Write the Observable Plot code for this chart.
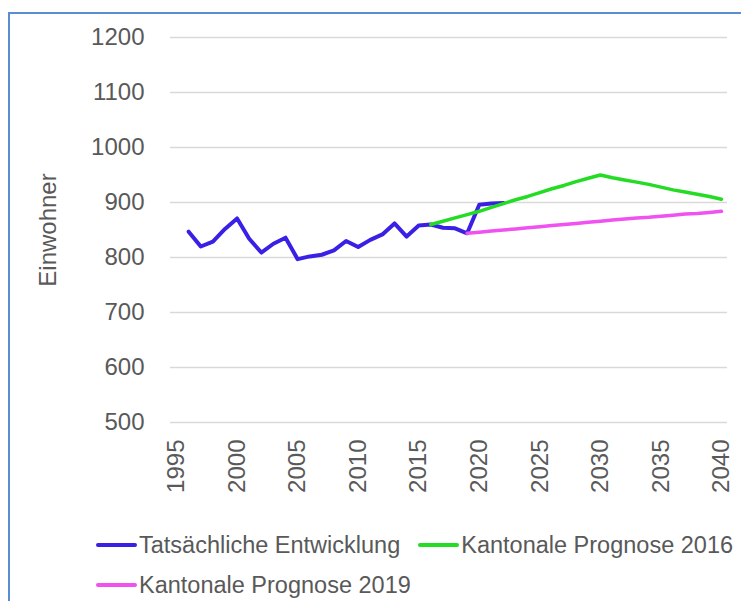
<!DOCTYPE html>
<html><head><meta charset="utf-8">
<script src="https://cdn.jsdelivr.net/npm/d3@7"></script>
<script src="https://cdn.jsdelivr.net/npm/@observablehq/plot@0.6"></script>
<style>
body{margin:0;width:741px;height:601px;overflow:hidden;background:#fff;font-family:"Liberation Sans",Arial,sans-serif;position:relative}
#frame{position:absolute;left:8px;top:12px;width:900px;height:800px;border:2px solid #5b8bd0;box-sizing:border-box}
#chart{position:absolute;left:0;top:0}
#legend{position:absolute;left:96px;top:530px;width:645px;display:flex;flex-wrap:wrap;column-gap:18px;row-gap:10px}
.item{display:flex;align-items:center;height:30px;font-size:23.5px;color:#595959;white-space:nowrap}
.sw{display:inline-block;width:41px;height:4px;border-radius:2px;margin-right:2px}
</style></head>
<body>
<div id="frame"></div>
<div id="chart"></div>
<div id="legend"></div>
<script>
const seriesNames = ["Tatsächliche Entwicklung", "Kantonale Prognose 2016", "Kantonale Prognose 2019"];
const seriesColors = ["#3a20e4", "#24dc24", "#f052f0"];

const actualYears = [1996,1997,1998,1999,2000,2001,2002,2003,2004,2005,2006,2007,2008,2009,2010,2011,2012,2013,2014,2015,2016,2017,2018,2019,2020,2021,2022];
const actualValues = [847,820,829,852,871,834,809,825,836,797,802,805,813,830,819,832,842,862,838,858,860,854,853,844,896,898,899];

const prog2016Years = [2016,2017,2018,2019,2020,2021,2022,2023,2024,2025,2026,2027,2028,2029,2030,2031,2032,2033,2034,2035,2036,2037,2038,2039,2040];
const prog2016Values = [860,866,872,878,884,891,898,905,911,918,925,931,938,944,950,945,941,937,933,928,923,919,915,911,906];

const prog2019Years = [2019,2020,2021,2022,2023,2024,2025,2026,2027,2028,2029,2030,2031,2032,2033,2034,2035,2036,2037,2038,2039,2040];
const prog2019Values = [844,846,848,850,852,854,856,858,860,862,864,866,868,870,872,873,875,877,879,880,882,884];

const xTicks = [1995,2000,2005,2010,2015,2020,2025,2030,2035,2040];
const yTicks = [500,600,700,800,900,1000,1100,1200];

const font = "Liberation Sans, Arial, sans-serif";
const chart = Plot.plot({
  width: 741, height: 500,
  marginLeft: 170, marginRight: 14, marginTop: 37, marginBottom: 78,
  style: {fontFamily: font, fontSize: "24px", color: "#595959", background: "transparent", overflow: "visible"},
  x: {domain: [1994.5, 2040.5]},
  y: {domain: [500, 1200]},
  marks: [
    Plot.gridY(yTicks, {stroke: "#d9d9d9", strokeOpacity: 1, strokeWidth: 1.5}),
    Plot.axisY(yTicks, {tickSize: 0, tickPadding: 26, fontSize: 24, fill: "#595959",
      tickFormat: d => String(d),
      label: "Einwohner", labelAnchor: "center", labelArrow: "none", labelOffset: 132}),
    Plot.axisX(xTicks, {tickSize: 0, tickRotate: -90, tickPadding: 17, fontSize: 24, fill: "#595959",
      tickFormat: d => String(d), label: null}),
    Plot.line(actualValues, {x: actualYears, y: actualValues, stroke: seriesColors[0], strokeWidth: 4, strokeLinejoin: "round", strokeLinecap: "round"}),
    Plot.line(prog2016Values, {x: prog2016Years, y: prog2016Values, stroke: seriesColors[1], strokeWidth: 3.5, strokeLinejoin: "round", strokeLinecap: "round"}),
    Plot.line(prog2019Values, {x: prog2019Years, y: prog2019Values, stroke: seriesColors[2], strokeWidth: 3.5, strokeLinejoin: "round", strokeLinecap: "round"})
  ]
});
document.getElementById("chart").appendChild(chart);

const legend = document.getElementById("legend");
seriesNames.forEach((n, i) => {
  const it = document.createElement("div");
  it.className = "item";
  const sw = document.createElement("span");
  sw.className = "sw";
  sw.style.background = seriesColors[i];
  it.appendChild(sw);
  it.appendChild(document.createTextNode(n));
  legend.appendChild(it);
});
</script>
</body></html>
